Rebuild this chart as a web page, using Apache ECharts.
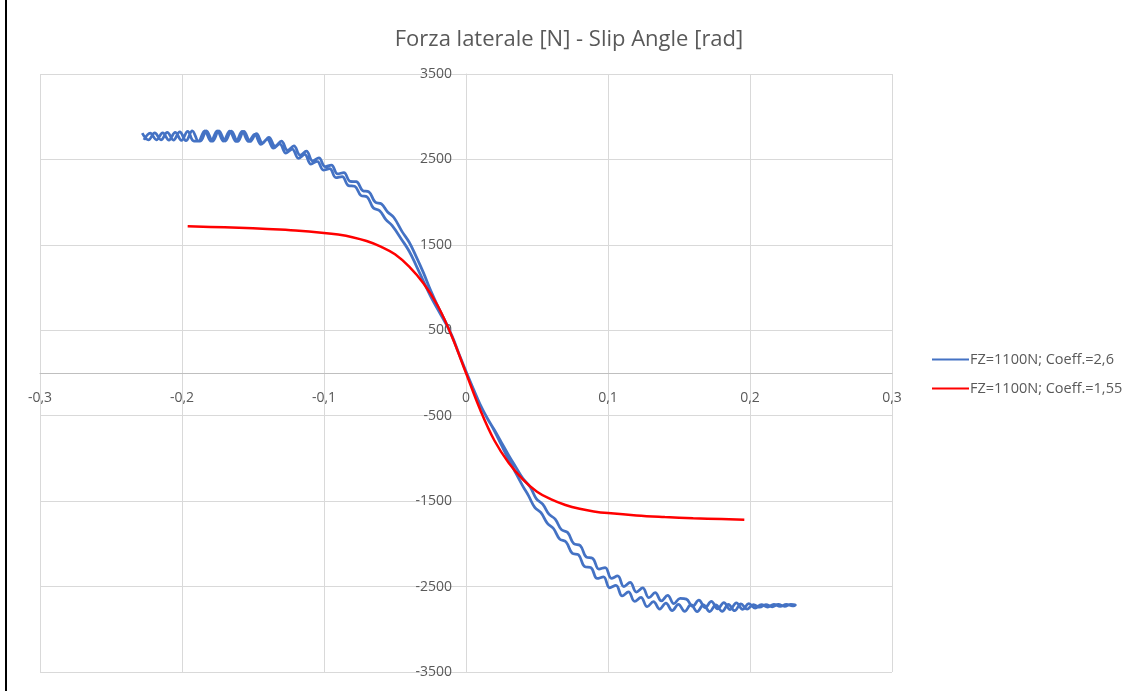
<!DOCTYPE html>
<html><head><meta charset="utf-8">
<script src="https://cdn.jsdelivr.net/npm/echarts@6/dist/echarts.min.js"></script>
<style>html,body{margin:0;padding:0;background:#fff}#c{width:1138px;height:691px}
#edge{position:absolute;left:5px;top:0;width:2px;height:691px;background:#000}</style>
</head><body><div id="c"></div><div id="edge"></div>
<script>
const titleText = 'Forza laterale [N] - Slip Angle [rad]';
const seriesNames = ['FZ=1100N; Coeff.=2,6', 'FZ=1100N; Coeff.=1,55'];
const xTickLabels = ['-0,3', '-0,2', '-0,1', '0', '0,1', '0,2', '0,3'];
const yTickLabels = ['-3500', '-2500', '-1500', '-500', '500', '1500', '2500', '3500'];

// Blue: outbound trace (left -> right)
const blueOutX = [-0.2280,-0.2236,-0.2192,-0.2148,-0.2104,-0.2060,-0.2016,-0.1972,-0.1928,-0.1884,-0.1840,-0.1796,-0.1752,-0.1708,-0.1664,-0.1620,-0.1576,-0.1532,-0.1488,-0.1444,-0.1400,-0.1356,-0.1312,-0.1268,-0.1224,-0.1180,-0.1136,-0.1092,-0.1048,-0.1004,-0.0960,-0.0916,-0.0872,-0.0828,-0.0784,-0.0740,-0.0696,-0.0652,-0.0608,-0.0564,-0.0520,
-0.045,-0.040,-0.035,-0.030,-0.025,-0.020,-0.015,-0.010,-0.005,0,0.005,0.010,0.015,0.020,0.025,0.030,0.035,0.040,
0.0440,0.0484,0.0528,0.0572,0.0616,0.0660,0.0704,0.0748,0.0792,0.0836,0.0880,0.0924,0.0968,0.1012,0.1056,0.1100,0.1144,0.1188,0.1232,0.1276,0.1320,0.1364,0.1408,0.1452,0.1496,0.1540,0.1584,0.1628,0.1672,0.1716,0.1760,0.1804,0.1848,0.1892,0.1936,0.1980,0.2024,0.2068,0.2112,0.2156,0.2200,0.2244,0.2288,0.2320];
const blueOutY = [2808,2728,2810,2730,2817,2727,2823,2719,2835,2715,2835,2715,2835,2714,2832,2710,2828,2710,2793,2676,2738,2631,2683,2573,2622,2513,2558,2446,2478,2376,2392,2286,2300,2193,2185,2078,2061,1931,1900,1795,1725,
1555,1425,1255,1075,900,747,602,440,225,20,-180,-370,-530,-677,-845,-1011,-1169,-1324,
-1435,-1573,-1635,-1757,-1820,-1944,-1977,-2110,-2128,-2266,-2279,-2405,-2387,-2514,-2486,-2610,-2562,-2674,-2626,-2736,-2676,-2764,-2693,-2781,-2708,-2791,-2712,-2793,-2714,-2793,-2713,-2791,-2707,-2782,-2704,-2765,-2711,-2742,-2710,-2738,-2709,-2731,-2707,-2716];

// Blue: return trace (listed left -> right, drawn right -> left)
const blueBackX = [-0.2268,-0.2224,-0.2180,-0.2136,-0.2092,-0.2048,-0.2004,-0.1960,-0.1916,-0.1872,-0.1828,-0.1784,-0.1740,-0.1696,-0.1652,-0.1608,-0.1564,-0.1520,-0.1476,-0.1432,-0.1388,-0.1344,-0.1300,-0.1256,-0.1212,-0.1168,-0.1124,-0.1080,-0.1036,-0.0992,-0.0948,-0.0904,-0.0860,-0.0816,-0.0772,-0.0728,-0.0684,-0.0640,-0.0596,-0.0552,-0.0508,
-0.045,-0.040,-0.035,-0.030,-0.025,-0.020,-0.015,-0.010,-0.005,0,0.005,0.010,0.015,0.020,0.025,0.030,0.035,0.040,
0.0452,0.0496,0.0540,0.0584,0.0628,0.0672,0.0716,0.0760,0.0804,0.0848,0.0892,0.0936,0.0980,0.1024,0.1068,0.1112,0.1156,0.1200,0.1244,0.1288,0.1332,0.1376,0.1420,0.1464,0.1508,0.1552,0.1596,0.1640,0.1684,0.1728,0.1772,0.1816,0.1860,0.1904,0.1948,0.1992,0.2036,0.2080,0.2124,0.2168,0.2212,0.2256,0.2300];
const blueBackY = [2728,2808,2730,2810,2727,2817,2723,2829,2715,2715,2835,2715,2835,2714,2832,2710,2828,2710,2803,2692,2758,2655,2713,2605,2658,2549,2596,2484,2518,2416,2434,2330,2346,2243,2239,2136,2121,2001,1980,1885,1820,
1655,1530,1360,1175,970,787,618,440,225,20,-180,-370,-530,-667,-815,-961,-1099,-1234,
-1335,-1473,-1535,-1653,-1710,-1834,-1867,-2000,-2018,-2156,-2169,-2295,-2277,-2404,-2376,-2500,-2452,-2564,-2516,-2630,-2572,-2668,-2603,-2701,-2638,-2647,-2732,-2659,-2746,-2673,-2761,-2687,-2769,-2690,-2766,-2701,-2751,-2712,-2740,-2708,-2733,-2707,-2727];

// Red
const redX = [-0.196,-0.18,-0.16,-0.14,-0.12,-0.10,-0.09,-0.08,-0.07,-0.06,-0.05,-0.04,-0.03,-0.02,-0.01,0,0.01,0.02,0.03,0.04,0.05,0.06,0.07,0.08,0.09,0.10,0.12,0.14,0.16,0.18,0.196];
const redY = [1717,1710,1700,1686,1668,1640,1620,1590,1545,1480,1390,1245,1050,790,430,0,-430,-790,-1050,-1245,-1390,-1480,-1545,-1590,-1620,-1640,-1668,-1686,-1700,-1710,-1717];

const blueData = blueOutX.map((x, i) => [x, blueOutY[i]]);
for (let i = blueBackX.length - 1; i >= 0; i--) blueData.push([blueBackX[i], blueBackY[i]]);
const redData = redX.map((x, i) => [x, redY[i]]);

const FONT = 'Open Sans';
const TXT = '#595959';
const GRID = '#d9d9d9';

// plot box (px)
const G = {left: 40, right: 246, top: 74, bottom: 19};
const plotW = 1138 - G.left - G.right, plotH = 691 - G.top - G.bottom;

const chart = echarts.init(document.getElementById('c'), null, {renderer: 'canvas'});
chart.setOption({
  animation: false,
  backgroundColor: '#fff',
  title: {
    text: titleText, left: 'center', top: 24,
    textStyle: {fontFamily: FONT, fontSize: 22, fontWeight: 'normal', color: TXT}
  },
  legend: {
    orient: 'vertical', left: 926, top: 347,
    itemWidth: 37, itemHeight: 14, itemGap: 14,
    itemStyle: {opacity: 0},
    textStyle: {fontFamily: FONT, fontSize: 14.5, color: TXT, padding: [0, 0, 0, -4]},
    data: seriesNames
  },
  grid: Object.assign({containLabel: false, outerBoundsMode: 'none'}, G),
  xAxis: {
    type: 'value', min: -0.3, max: 0.3, interval: 0.1, position: 'bottom',
    offset: -plotH * 3500 / 7000,
    axisLine: {show: true, onZero: false, lineStyle: {color: '#bfbfbf', width: 1}},
    axisTick: {show: false},
    axisLabel: {
      fontFamily: FONT, fontSize: 14, color: TXT, margin: 18,
      formatter: v => xTickLabels[Math.round((v + 0.3) / 0.1)]
    },
    splitLine: {show: true, lineStyle: {color: GRID, width: 1}}
  },
  yAxis: {
    type: 'value', min: -3500, max: 3500, interval: 1000, position: 'left',
    offset: -plotW * 0.3 / 0.6,
    axisLine: {show: true, onZero: false, lineStyle: {color: GRID, width: 1}},
    axisTick: {show: false},
    axisLabel: {
      fontFamily: FONT, fontSize: 14, color: TXT, margin: 14,
      formatter: v => yTickLabels[Math.round((v + 3500) / 1000)]
    },
    splitLine: {show: true, lineStyle: {color: GRID, width: 1}}
  },
  series: [
    {
      name: seriesNames[0], type: 'line', data: blueData, symbol: 'none', smooth: 0.4,
      lineStyle: {color: '#4472C4', width: 2.75}, itemStyle: {color: '#4472C4'}, z: 2
    },
    {
      name: seriesNames[1], type: 'line', data: redData, symbol: 'none', smooth: 0.4,
      lineStyle: {color: '#FF0000', width: 2.5}, itemStyle: {color: '#FF0000'}, z: 3
    }
  ]
});
</script>
</body></html>
